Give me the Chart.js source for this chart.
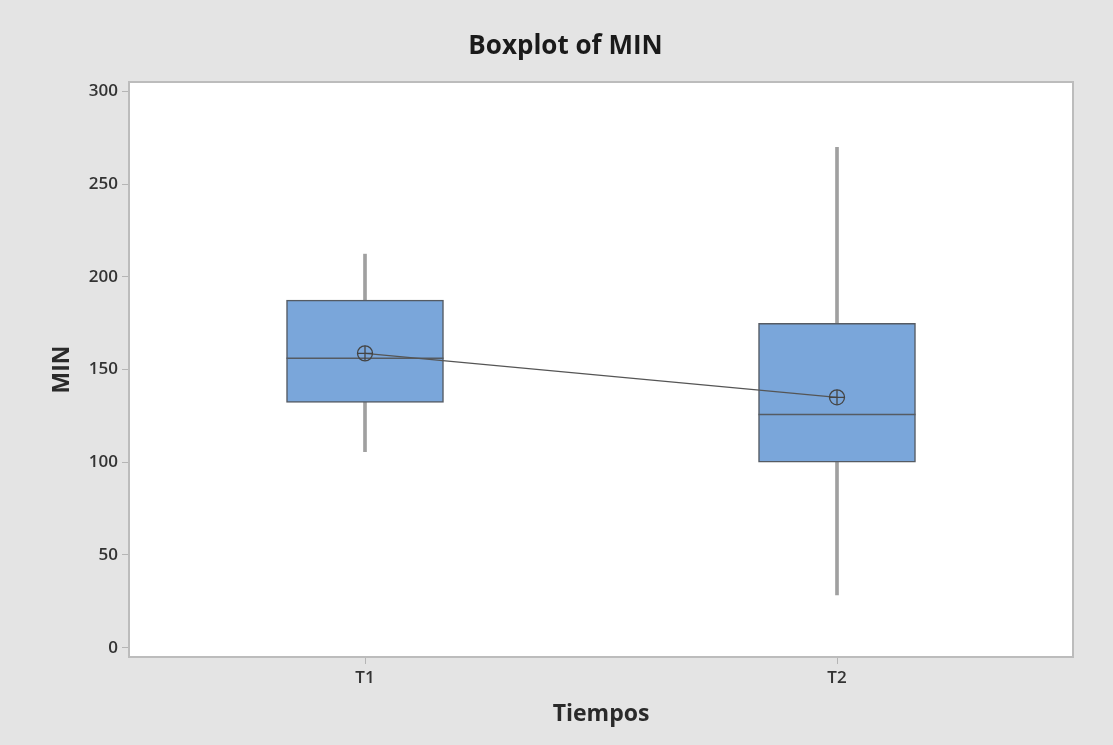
<!DOCTYPE html>
<html>
<head>
<meta charset="utf-8">
<script src="https://cdn.jsdelivr.net/npm/chart.js@4.4.1/dist/chart.umd.min.js"></script>
<style>
  body { margin: 0; background: #e4e4e4; }
  canvas { display: block; }
</style>
</head>
<body>
<canvas id="chart" width="1113" height="745"></canvas>
<script>
const categories = ["T1", "T2"];
const whiskerLow = [105.7, 28.5];
const q1 = [132.3, 100.0];
const medians = [156.0, 125.8];
const q3 = [187.4, 174.9];
const whiskerHigh = [212.2, 269.8];
const means = [158.7, 135.0];
const yTicks = [0, 50, 100, 150, 200, 250, 300];

const FONT = "'Open Sans', 'Noto Sans', sans-serif";

// background + white plot area + plot frame
const framePlugin = {
  id: "frame",
  beforeDraw(chart) {
    const { ctx, chartArea: a } = chart;
    ctx.save();
    ctx.fillStyle = "#e4e4e4";
    ctx.fillRect(0, 0, chart.width, chart.height);
    ctx.fillStyle = "#ffffff";
    ctx.fillRect(a.left, a.top, a.right - a.left, a.bottom - a.top);
    ctx.restore();
  },
  afterDraw(chart) {
    const { ctx, chartArea: a } = chart;
    ctx.save();
    ctx.strokeStyle = "#bcbcbc";
    ctx.lineWidth = 2;
    ctx.strokeRect(a.left, a.top, a.right - a.left, a.bottom - a.top);
    ctx.restore();
  }
};

// median line inside each box
const medianPlugin = {
  id: "medians",
  afterDatasetDraw(chart, args) {
    if (args.index !== 1) return;
    const { ctx } = chart;
    const y = chart.scales.y;
    ctx.save();
    ctx.strokeStyle = "#555b63";
    ctx.lineWidth = 1.5;
    args.meta.data.forEach((bar, i) => {
      const py = y.getPixelForValue(medians[i]);
      ctx.beginPath();
      ctx.moveTo(bar.x - bar.width / 2, py);
      ctx.lineTo(bar.x + bar.width / 2, py);
      ctx.stroke();
    });
    ctx.restore();
  }
};

new Chart(document.getElementById("chart"), {
  type: "bar",
  data: {
    labels: categories,
    datasets: [
      {
        type: "line",
        data: means,
        pointStyle: "cross",
        pointRadius: 7.5,
        pointBorderColor: "#444",
        pointBorderWidth: 1.3,
        showLine: false,
        order: 0
      },
      {
        type: "bar",
        data: categories.map((c, i) => [q1[i], q3[i]]),
        backgroundColor: "#7aa6da",
        borderColor: "#555b63",
        borderWidth: 1.5,
        borderSkipped: false,
        barThickness: 157,
        grouped: false,
        order: 2
      },
      {
        type: "bar",
        data: categories.map((c, i) => [whiskerLow[i], whiskerHigh[i]]),
        backgroundColor: "#a0a0a0",
        borderWidth: 0,
        barThickness: 3,
        grouped: false,
        order: 3
      },
      {
        type: "line",
        data: means,
        borderColor: "#555555",
        borderWidth: 1.2,
        pointStyle: "circle",
        pointRadius: 7.5,
        pointBackgroundColor: "rgba(0,0,0,0)",
        pointBorderColor: "#444",
        pointBorderWidth: 1.3,
        order: 1
      }
    ]
  },
  options: {
    responsive: false,
    animation: false,
    layout: { padding: { left: 58, right: 40, top: 0, bottom: 0 } },
    plugins: {
      legend: { display: false },
      tooltip: { enabled: false },
      title: {
        display: true,
        text: "Boxplot of MIN",
        color: "#1a1a1a",
        font: { family: FONT, size: 26, weight: "bold", lineHeight: 1.2 },
        padding: { top: 31.4, bottom: 19.4 }
      }
    },
    scales: {
      x: {
        type: "category",
        offset: true,
        grid: { offset: false, drawOnChartArea: false, drawTicks: true, tickLength: 7, color: "#b5b5b5" },
        border: { display: false },
        ticks: { color: "#333", padding: 4, font: { family: FONT, size: 17, weight: "600" } },
        title: {
          display: true,
          text: "Tiempos",
          color: "#2a2a2a",
          font: { family: FONT, size: 23, weight: "bold", lineHeight: 1.2 },
          padding: { top: 0, bottom: 17.2 }
        },
        afterFit(scale) { scale.height = 88; }
      },
      y: {
        min: -5,
        max: 305,
        afterBuildTicks(scale) { scale.ticks = yTicks.map(v => ({ value: v })); },
        grid: { drawOnChartArea: false, drawTicks: true, tickLength: 7, color: "#b5b5b5" },
        border: { display: false },
        ticks: { color: "#333", padding: 4, font: { family: FONT, size: 17, weight: "600" } },
        title: {
          display: true,
          text: "MIN",
          color: "#2a2a2a",
          font: { family: FONT, size: 23, weight: "bold", lineHeight: 1.2 },
          padding: { top: -9.8, bottom: 0 }
        },
        afterFit(scale) { scale.width = 71; }
      }
    }
  },
  plugins: [framePlugin, medianPlugin]
});
</script>
</body>
</html>
